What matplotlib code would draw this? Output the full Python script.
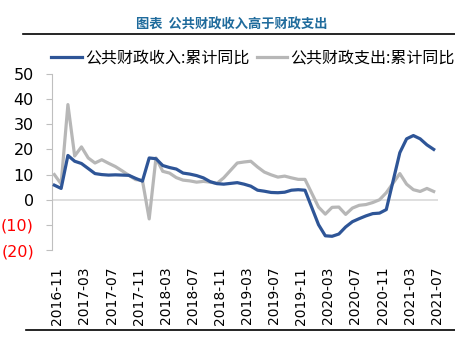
import numpy as np
import matplotlib.pyplot as plt
import pandas as pd

plt.rcParams['font.family'] = ['DejaVu Sans', 'Noto Sans CJK SC']

# monthly, 2016-11 .. 2021-07 (NaN = month not published)
months = pd.period_range('2016-11', '2021-07', freq='M').strftime('%Y-%m').tolist()

revenue = [5.8, 4.5, 17.6, 15.3, 14.4, 12.4, 10.4, 10.0, 9.8, 9.9, 9.8, 9.7,
           8.5, 7.4, 16.6, 16.3, 13.6, 12.8, 12.2, 10.6, 10.2, 9.6, 8.7, 7.2,
           6.4, 6.2, np.nan, 6.8, 6.2, 5.4, 3.8, 3.4, 2.9, 2.8, 3.0, 3.8,
           4.0, 3.8, np.nan, -9.9, -14.3, -14.5, -13.6, -10.8, -8.7, -7.5, -6.4, -5.5,
           -5.3, -3.9, np.nan, 18.7, 24.2, 25.5, 24.2, 21.8, 20.0]
spending = [10.0, 6.3, 37.8, 17.4, 21.0, 16.6, 14.6, 15.9, 14.5, 13.2, 11.5, 9.7,
            8.0, 7.7, -7.6, 16.6, 11.3, 10.6, 8.8, 7.8, 7.5, 7.0, 7.3, 7.0,
            6.5, 8.7, np.nan, 14.6, 15.0, 15.3, 13.0, 11.0, 9.9, 9.0, 9.4, 8.7,
            8.1, 8.1, np.nan, -2.9, -5.7, -3.0, -2.9, -5.8, -3.3, -2.2, -1.9, -1.1,
            0.0, 2.8, np.nan, 10.4, 6.2, 4.0, 3.3, 4.5, 3.3]

x = np.arange(len(months))
rev = pd.Series(revenue, index=x).dropna()
spd = pd.Series(spending, index=x).dropna()

fig = plt.figure(figsize=(4.56, 3.62), dpi=100)
ax = fig.add_axes([0.114, 0.309, 0.846, 0.487])

ax.axhline(0, color='#d9d9d9', lw=1.2, zorder=1)
l1, = ax.plot(rev.index, rev.values, color='#2e5597', lw=2.3, zorder=3)
l2, = ax.plot(spd.index, spd.values, color='#b7b7b7', lw=2.3, zorder=2)

ax.set_xlim(-0.35, len(months) - 0.4)
ax.set_ylim(-20, 50)
ax.set_yticks(range(-20, 51, 10))
ylabels = ['(%d)' % -v if v < 0 else str(v) for v in range(-20, 51, 10)]
ax.set_yticklabels(ylabels, fontsize=11.5)
for t, v in zip(ax.get_yticklabels(), range(-20, 51, 10)):
    t.set_color('red' if v < 0 else 'black')

tick_idx = x[::4]
ax.set_xticks(tick_idx + 0.45)
ax.set_xticklabels([months[i] for i in tick_idx], rotation=90, fontsize=10)
ax.tick_params(axis='x', length=0, pad=12)
ax.tick_params(axis='y', length=4, color='#bfbfbf', pad=9)

for s in ['top', 'right', 'bottom']:
    ax.spines[s].set_visible(False)
ax.spines['left'].set_color('#bfbfbf')

fig.legend([l1, l2], ['公共财政收入:累计同比', '公共财政支出:累计同比'],
           loc='center', bbox_to_anchor=(0.555, 0.84), ncol=2, frameon=False,
           handlelength=1.9, handletextpad=0.2, columnspacing=0.5,
           prop={'family': ['Noto Sans CJK SC'], 'size': 11.5})

fig.text(0.509, 0.931, '图表  公共财政收入高于财政支出', ha='center', va='center',
         fontsize=9.5, fontweight='bold', color='#1f6b9c', family=['Noto Sans CJK SC'])
fig.add_artist(plt.Line2D([0.05, 1.0], [0.905, 0.905], color='black', lw=1.2))
fig.add_artist(plt.Line2D([0.057, 1.0], [0.088, 0.088], color='black', lw=1.2))

fig.savefig('out.png', dpi=100)
